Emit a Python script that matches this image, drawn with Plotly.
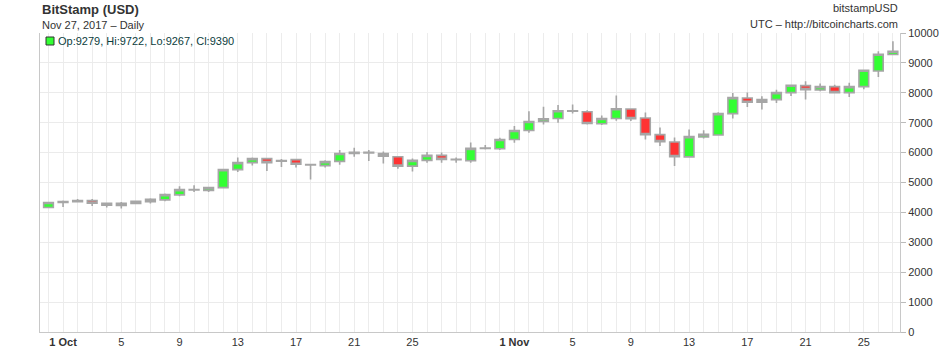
import pandas as pd
import plotly.graph_objects as go

dates = pd.date_range("2017-09-30", "2017-11-27", freq="D")

opens = [4162, 4329, 4362, 4396, 4307, 4229, 4296, 4362, 4418, 4585,
         4752, 4730, 4830, 5432, 5666, 5800, 5710, 5766, 5588, 5566,
         5705, 5972, 6006, 5972, 5861, 5549, 5739, 5906, 5772, 5728,
         6140, 6128, 6440, 6741, 7042, 7142, 7398, 7365, 6964, 7142,
         7460, 7159, 6602, 6357, 5856, 6524, 6591, 7304, 7828, 7683,
         7772, 8006, 8240, 8095, 8206, 8006, 8206, 8730, 9279]
highs = [4351, 4396, 4451, 4451, 4329, 4351, 4396, 4474, 4630, 4875,
         4908, 4853, 5432, 5833, 5833, 5822, 5788, 5788, 5610, 5744,
         6084, 6162, 6084, 6040, 5883, 5806, 6017, 6006, 5839, 6340,
         6251, 6496, 6886, 7387, 7532, 7588, 7610, 7420, 7243, 7911,
         7480, 7340, 6836, 6502, 6770, 6747, 7349, 7995, 8006, 7883,
         8106, 8273, 8385, 8307, 8273, 8340, 8775, 9387, 9722]
lows = [4140, 4184, 4329, 4218, 4162, 4128, 4273, 4296, 4374, 4541,
        4686, 4686, 4797, 5354, 5566, 5387, 5521, 5499, 5098, 5499,
        5594, 5861, 5717, 5638, 5460, 5371, 5661, 5661, 5661, 5661,
        6106, 6084, 6329, 6663, 6942, 6997, 7309, 6942, 6920, 7064,
        7059, 6435, 6224, 5555, 5834, 6469, 6569, 7137, 7527, 7438,
        7661, 7895, 7772, 8050, 7973, 7861, 8117, 8530, 9267]
closes = [4329, 4362, 4396, 4307, 4240, 4307, 4374, 4440, 4596, 4763,
          4763, 4830, 5432, 5666, 5800, 5666, 5733, 5610, 5599, 5699,
          5972, 6006, 5990, 5883, 5549, 5739, 5906, 5772, 5761, 6140,
          6150, 6440, 6741, 7042, 7131, 7398, 7387, 6975, 7142, 7465,
          7137, 6602, 6368, 5867, 6535, 6613, 7304, 7839, 7683, 7772,
          8006, 8251, 8106, 8206, 8006, 8206, 8752, 9287, 9390]

tick_dates = ["2017-10-01", "2017-10-05", "2017-10-09", "2017-10-13", "2017-10-17",
              "2017-10-21", "2017-10-25", "2017-11-01", "2017-11-05", "2017-11-09",
              "2017-11-13", "2017-11-17", "2017-11-21", "2017-11-25"]
tick_labels = ["<b>1 Oct</b>", "5", "9", "13", "17", "21", "25",
               "<b>1 Nov</b>", "5", "9", "13", "17", "21", "25"]
y_ticks = [0, 1000, 2000, 3000, 4000, 5000, 6000, 7000, 8000, 9000, 10000]

FONT = "Liberation Sans, Arial, sans-serif"
BORDER = "#a6a6a6"

fig = go.Figure(go.Candlestick(
    x=dates, open=opens, high=highs, low=lows, close=closes,
    increasing=dict(fillcolor="#33ff33", line=dict(color=BORDER, width=1.6)),
    decreasing=dict(fillcolor="#ff3333", line=dict(color=BORDER, width=1.6)),
    whiskerwidth=0, showlegend=False, hoverinfo="skip",
))

fig.update_layout(
    width=940, height=348,
    margin=dict(l=40, r=40, t=33, b=16, autoexpand=False),
    paper_bgcolor="white", plot_bgcolor="white",
    boxgap=0.05,
    font=dict(family=FONT, size=11, color="#333333"),
    xaxis=dict(
        type="date", automargin=False,
        range=["2017-09-29 10:00", "2017-11-27 11:40"],
        rangeslider=dict(visible=False),
        tickvals=tick_dates, ticktext=tick_labels,
        showgrid=True, gridcolor="#ececec", gridwidth=1,
        minor=dict(dtick=86400000, tick0="2017-09-30", showgrid=True,
                   gridcolor="#ececec", gridwidth=1),
        showline=True, linecolor="#c8c8c8", linewidth=1,
        ticks="", ticklen=0,
        tickfont=dict(size=11, color="#333333"),
        zeroline=False,
    ),
    yaxis=dict(
        side="right", range=[0, 10000], automargin=False,
        tickvals=y_ticks, ticktext=[str(v) for v in y_ticks],
        showgrid=True, gridcolor="#ebebeb", gridwidth=1,
        showline=True, mirror=True, linecolor="#c8c8c8", linewidth=1,
        ticks="outside", ticklen=5, tickcolor="#bbbbbb",
        tickfont=dict(size=11, color="#333333"),
        zeroline=False,
    ),
    annotations=[
        dict(text="<b>BitStamp (USD)</b>", xref="paper", yref="paper", x=0, y=1,
             yshift=24, xanchor="left", yanchor="middle",
             showarrow=False, font=dict(size=13, color="#333333")),
        dict(text="Nov 27, 2017 \u2013 Daily", xref="paper", yref="paper", x=0, y=1,
             yshift=8, xanchor="left", yanchor="middle",
             showarrow=False, font=dict(size=11, color="#333333")),
        dict(text="bitstampUSD", xref="paper", yref="paper", x=1, y=1,
             yshift=25, xanchor="right", yanchor="middle",
             showarrow=False, font=dict(size=11, color="#333333")),
        dict(text="UTC \u2013 http://bitcoincharts.com", xref="paper", yref="paper", x=1, y=1,
             yshift=9, xanchor="right", yanchor="middle",
             showarrow=False, font=dict(size=11, color="#333333")),
        dict(text="Op:%d, Hi:%d, Lo:%d, Cl:%d" % (opens[-1], highs[-1], lows[-1], closes[-1]),
             xref="paper", yref="paper", x=0, y=1, xshift=16, yshift=-8,
             xanchor="left", yanchor="middle", showarrow=False,
             font=dict(size=11, color="#0b3d3d")),
    ],
    shapes=[
        dict(type="rect", xref="paper", yref="paper",
             xsizemode="pixel", ysizemode="pixel", xanchor=0, yanchor=1,
             x0=6, x1=14, y0=-4, y1=-12,
             line=dict(color="#333333", width=1), fillcolor="#33ff33",
             layer="above"),
    ],
)

fig.write_html("out.html")
